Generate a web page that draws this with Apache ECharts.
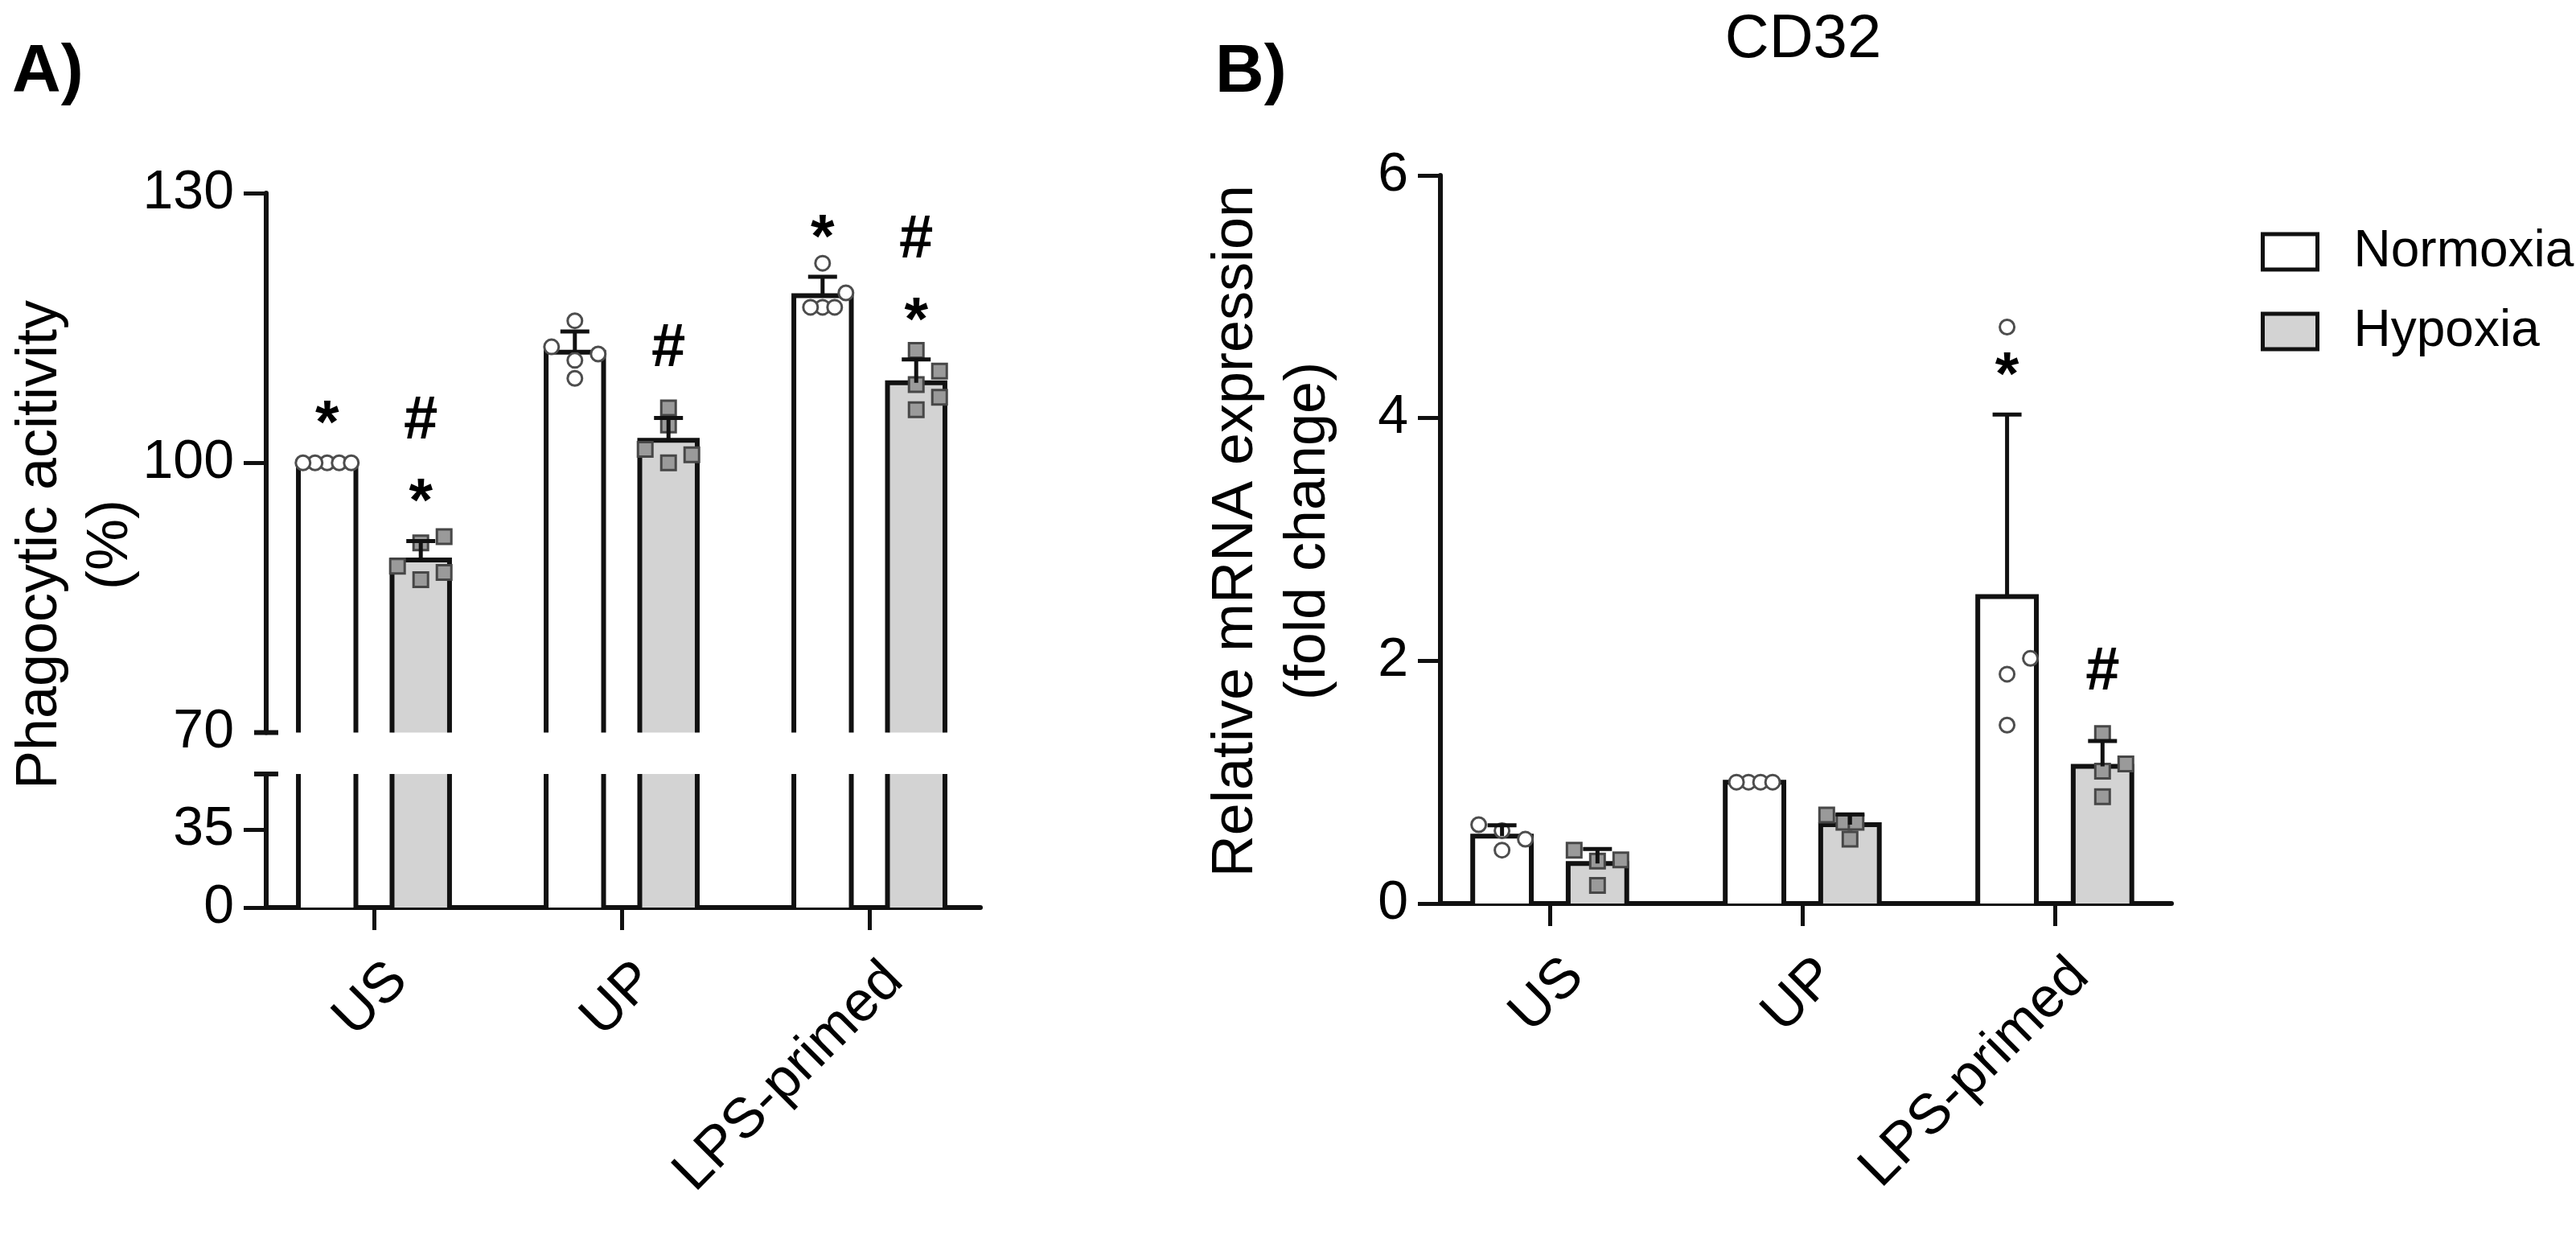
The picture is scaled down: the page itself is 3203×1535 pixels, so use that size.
<!DOCTYPE html>
<html>
<head>
<meta charset="utf-8">
<title>Phagocytic activity / CD32</title>
<script src="https://cdn.jsdelivr.net/npm/echarts@6/dist/echarts.min.js"></script>
<style>
  html, body { margin: 0; padding: 0; background: #fff; }
  #chart { width: 3203px; height: 1535px; }
</style>
</head>
<body>
<div id="chart"></div>
<script>
// categories on the x axis
const categories = ['US', 'UP', 'LPS-primed'];

// A) phagocytic activity (%), mean + SD and the single wells
const phagoNormoxiaMean = [100, 112.3, 118.6];
const phagoNormoxiaSD = [0, 2.3, 2.1];
const phagoHypoxiaMean = [89.2, 102.5, 108.9];
const phagoHypoxiaSD = [2.1, 2.5, 2.6];
const phagoNormoxiaPts = [
  [100, 100, 100, 100, 100],
  [115.8, 112.9, 112.1, 111.4, 109.4],
  [122.2, 118.9, 117.3, 117.3, 117.3]
];
const phagoHypoxiaPts = [
  [91.8, 91.1, 88.5, 87.8, 87.0],
  [106.1, 104.2, 101.5, 100.9, 100.0],
  [112.5, 110.2, 108.7, 107.3, 105.9]
];
// [category, group (0 normoxia / 1 hypoxia), marks from bottom to top]
const phagoMarks = [[0, 0, '*'], [0, 1, '*#'], [1, 1, '#'], [2, 0, '*'], [2, 1, '*#']];

// B) CD32 relative mRNA expression (fold change)
const cd32NormoxiaMean = [0.555, 1.0, 2.53];
const cd32NormoxiaSD = [0.09, 0, 1.5];
const cd32HypoxiaMean = [0.33, 0.65, 1.13];
const cd32HypoxiaSD = [0.12, 0.085, 0.21];
const cd32NormoxiaPts = [
  [0.65, 0.60, 0.53, 0.44],
  [1.0, 1.0, 1.0, 1.0],
  [4.75, 2.02, 1.89, 1.47]
];
const cd32HypoxiaPts = [
  [0.44, 0.36, 0.35, 0.15],
  [0.73, 0.67, 0.67, 0.53],
  [1.40, 1.15, 1.09, 0.88]
];
const cd32Marks = [[2, 0, '*'], [2, 1, '#']];

// axis ticks
const phagoUpperTicks = [70, 100, 130];
const phagoLowerTicks = [0, 35];
const cd32Ticks = [0, 2, 4, 6];

// ---- looks ----
const FONT = '"Liberation Sans", Arial, Helvetica, sans-serif';
const INK = '#111';
const GREY = '#d3d3d3';
const GRP_OFF = [-0.189, 0.189];   // bar centre offset inside a category
const BAR_W = 0.232;
const ROW_STEP = 15, SPREAD_STEP = 29, MIN_D = 20, R = 9;
const LABEL_SHIFT = 0.1;

const chart = echarts.init(document.getElementById('chart'), null, { renderer: 'canvas' });

function barSeries(name, axis, means, grp, fill) {
  return {
    type: 'custom', name: name, xAxisIndex: axis, yAxisIndex: axis, clip: false, z: 2,
    data: means.map((m, i) => [i, m]),
    renderItem: function (params, api) {
      const cs = params.coordSys;
      const x = api.value(0) + GRP_OFF[grp];
      const c = api.coord([x, api.value(1)]);
      const hw = api.coord([x + BAR_W / 2, api.value(1)])[0] - c[0];
      const bottom = cs.y + cs.height;
      const cut = c[1] < cs.y;
      const top = cut ? cs.y : c[1];
      const l = c[0] - hw, r = c[0] + hw;
      const st = { stroke: INK, lineWidth: 6, fill: null };
      const kids = [{ type: 'rect', shape: { x: l, y: top, width: 2 * hw, height: bottom - top }, style: { fill: fill } }];
      if (cut) {
        kids.push({ type: 'line', shape: { x1: l, y1: top, x2: l, y2: bottom }, style: st });
        kids.push({ type: 'line', shape: { x1: r, y1: top, x2: r, y2: bottom }, style: st });
      } else {
        kids.push({ type: 'polyline', shape: { points: [[l, bottom], [l, top], [r, top], [r, bottom]] }, style: st });
      }
      return { type: 'group', children: kids };
    }
  };
}

// scatter of the single values, spread sideways like a swarm
function pointSeries(axis, pts, grp, square) {
  return {
    type: 'custom', xAxisIndex: axis, yAxisIndex: axis, clip: false, z: 3,
    data: pts.map((p, i) => [i]),
    renderItem: function (params, api) {
      const i = api.value(0);
      const x0 = i + GRP_OFF[grp];
      const vals = pts[i].slice().sort((a, b) => a - b);
      const cx = api.coord([x0, vals[0]])[0];
      const placed = [];
      vals.forEach(v => {
        const y = api.coord([x0, v])[1];
        const twin = placed.some(p => Math.abs(p[1] - y) < 0.5);
        const step = twin ? ROW_STEP : SPREAD_STEP;
        for (const k of [0, 1, -1, 2, -2, 3, -3, 4, -4]) {
          const x = cx + k * step;
          const ok = placed.every(p => {
            const need = Math.abs(p[1] - y) < 0.5 ? ROW_STEP : MIN_D;
            return Math.hypot(p[0] - x, p[1] - y) >= need - 0.01;
          });
          if (ok) { placed.push([x, y]); break; }
        }
      });
      // centre rows of equal values
      const rows = {};
      placed.forEach(p => { const key = Math.round(p[1]); (rows[key] = rows[key] || []).push(p); });
      Object.values(rows).forEach(row => {
        if (row.length < 2) return;
        const m = row.reduce((s, p) => s + p[0], 0) / row.length - cx;
        row.forEach(p => { p[0] -= m; });
      });
      return {
        type: 'group',
        children: placed.map(p => square
          ? { type: 'rect', shape: { x: p[0] - R, y: p[1] - R, width: 2 * R, height: 2 * R }, style: { fill: '#9a9a9a', stroke: '#474747', lineWidth: 3 } }
          : { type: 'circle', shape: { cx: p[0], cy: p[1], r: R }, style: { fill: '#fff', stroke: '#4d4d4d', lineWidth: 3 } })
      };
    }
  };
}

function errorSeries(axis, means, sds, grp) {
  return {
    type: 'custom', xAxisIndex: axis, yAxisIndex: axis, clip: false, z: 4,
    data: means.map((m, i) => [i, m, sds[i]]),
    renderItem: function (params, api) {
      if (!(api.value(2) > 0)) return null;
      const x = api.value(0) + GRP_OFF[grp];
      const a = api.coord([x, api.value(1)]);
      const b = api.coord([x, api.value(1) + api.value(2)]);
      const st = { stroke: INK, lineWidth: 5 };
      return {
        type: 'group', children: [
          { type: 'line', shape: { x1: a[0], y1: a[1], x2: b[0], y2: b[1] }, style: st },
          { type: 'line', shape: { x1: b[0] - 18, y1: b[1], x2: b[0] + 18, y2: b[1] }, style: st }
        ]
      };
    }
  };
}

function markSeries(axis, marks, meansN, sdsN, meansH, sdsH) {
  return {
    type: 'custom', xAxisIndex: axis, yAxisIndex: axis, clip: false, z: 5,
    data: marks.map(m => [m[0], m[1]]),
    renderItem: function (params, api) {
      const i = api.value(0), g = api.value(1);
      const top = g === 0 ? meansN[i] + sdsN[i] : meansH[i] + sdsH[i];
      const p = api.coord([i + GRP_OFF[g], top]);
      const txt = marks[params.dataIndex][2];
      const kids = [];
      let cy = p[1];
      for (let j = 0; j < txt.length; j++) {
        const ch = txt[j];
        cy -= j === 0 ? (ch === '#' ? 85 : 63) : 85;
        kids.push({
          type: 'text', x: p[0], y: cy + (ch === '*' ? 17 : 0),
          style: { text: ch, fill: '#000', font: 'bold 76px ' + FONT, align: 'center', verticalAlign: 'middle', textAlign: 'center', textVerticalAlign: 'middle' }
        });
      }
      return { type: 'group', children: kids };
    }
  };
}

// short caps where the y axis of A is broken
function breakCap(axis, value) {
  return {
    type: 'custom', xAxisIndex: axis, yAxisIndex: axis, clip: false, z: 5,
    data: [[0, value]],
    renderItem: function (params, api) {
      const y = api.coord([0, api.value(1)])[1];
      const x = params.coordSys.x;
      return { type: 'line', shape: { x1: x - 15, y1: y, x2: x + 15, y2: y }, style: { stroke: INK, lineWidth: 6 } };
    }
  };
}

function xAxisOf(grid, min, max, visible) {
  return {
    type: 'value', gridIndex: grid, min: min, max: max, show: visible,
    axisLine: { show: true, onZero: false, lineStyle: { color: INK, width: 6 } },
    axisTick: { show: true, customValues: [0, 1, 2], length: 28, lineStyle: { color: INK, width: 5 } },
    axisLabel: {
      show: true, customValues: categories.map((c, i) => i + LABEL_SHIFT),
      formatter: v => categories[Math.round(v - LABEL_SHIFT)],
      rotate: 45, margin: 80, fontSize: 70, color: '#000', fontFamily: FONT
    },
    splitLine: { show: false }
  };
}

function yAxisOf(grid, min, max, ticks, labels) {
  return {
    type: 'value', gridIndex: grid, min: min, max: max,
    axisLine: { show: true, onZero: false, lineStyle: { color: INK, width: 6 } },
    axisTick: { show: true, customValues: ticks, length: 28, lineStyle: { color: INK, width: 5 } },
    axisLabel: { show: true, customValues: labels, margin: 40, fontSize: 68, color: '#000', fontFamily: FONT },
    splitLine: { show: false }
  };
}

const option = {
  backgroundColor: '#fff',
  animation: false,
  grid: [
    { left: 331, right: 1984, top: 240, height: 670.5, outerBoundsMode: 'none' },
    { left: 331, right: 1984, top: 962, height: 166, outerBoundsMode: 'none' },
    { left: 1791, right: 503, top: 218, height: 905, outerBoundsMode: 'none' }
  ],
  xAxis: [
    xAxisOf(0, -0.435, 2.448, false),
    xAxisOf(1, -0.435, 2.448, true),
    xAxisOf(2, -0.433, 2.462, true)
  ],
  yAxis: [
    yAxisOf(0, 70, 130, [100, 130], phagoUpperTicks),
    yAxisOf(1, 0, 60, [0, 35], phagoLowerTicks),
    yAxisOf(2, 0, 6, cd32Ticks, cd32Ticks)
  ],
  legend: {
    orient: 'vertical', left: 2806, top: 276, icon: 'rect',
    itemWidth: 68, itemHeight: 44, itemGap: 35, selectedMode: false,
    textStyle: { fontSize: 64, color: '#000', fontFamily: FONT, padding: [0, 0, 0, 40] },
    data: [
      { name: 'Normoxia', itemStyle: { color: '#fff', borderColor: INK, borderWidth: 5 } },
      { name: 'Hypoxia', itemStyle: { color: GREY, borderColor: INK, borderWidth: 5 } }
    ]
  },
  graphic: [
    { type: 'text', x: 15, y: 91, style: { text: 'A)', font: 'bold 84px ' + FONT, fill: '#000', align: 'left', verticalAlign: 'middle', textAlign: 'left', textVerticalAlign: 'middle' } },
    { type: 'text', x: 1511, y: 91, style: { text: 'B)', font: 'bold 84px ' + FONT, fill: '#000', align: 'left', verticalAlign: 'middle', textAlign: 'left', textVerticalAlign: 'middle' } },
    { type: 'text', x: 2242, y: 50, style: { text: 'CD32', font: '76px ' + FONT, fill: '#000', align: 'center', verticalAlign: 'middle', textAlign: 'center', textVerticalAlign: 'middle' } },
    { type: 'text', x: 94, y: 677, rotation: Math.PI / 2, style: { text: 'Phagocytic acitivity\n(%)', font: '72px ' + FONT, lineHeight: 88, fill: '#000', align: 'center', verticalAlign: 'middle', textAlign: 'center', textVerticalAlign: 'middle' } },
    { type: 'text', x: 1582, y: 660, rotation: Math.PI / 2, style: { text: 'Relative mRNA expression\n(fold change)', font: '72px ' + FONT, lineHeight: 90, fill: '#000', align: 'center', verticalAlign: 'middle', textAlign: 'center', textVerticalAlign: 'middle' } }
  ],
  series: [
    // A, upper part of the broken axis
    barSeries('Normoxia', 0, phagoNormoxiaMean, 0, '#fff'),
    barSeries('Hypoxia', 0, phagoHypoxiaMean, 1, GREY),
    pointSeries(0, phagoNormoxiaPts, 0, false),
    pointSeries(0, phagoHypoxiaPts, 1, true),
    errorSeries(0, phagoNormoxiaMean, phagoNormoxiaSD, 0),
    errorSeries(0, phagoHypoxiaMean, phagoHypoxiaSD, 1),
    markSeries(0, phagoMarks, phagoNormoxiaMean, phagoNormoxiaSD, phagoHypoxiaMean, phagoHypoxiaSD),
    breakCap(0, 70),
    // A, lower part
    barSeries('Normoxia', 1, phagoNormoxiaMean, 0, '#fff'),
    barSeries('Hypoxia', 1, phagoHypoxiaMean, 1, GREY),
    breakCap(1, 60),
    // B
    barSeries('Normoxia', 2, cd32NormoxiaMean, 0, '#fff'),
    barSeries('Hypoxia', 2, cd32HypoxiaMean, 1, GREY),
    pointSeries(2, cd32NormoxiaPts, 0, false),
    pointSeries(2, cd32HypoxiaPts, 1, true),
    errorSeries(2, cd32NormoxiaMean, cd32NormoxiaSD, 0),
    errorSeries(2, cd32HypoxiaMean, cd32HypoxiaSD, 1),
    markSeries(2, cd32Marks, cd32NormoxiaMean, cd32NormoxiaSD, cd32HypoxiaMean, cd32HypoxiaSD)
  ]
};

chart.setOption(option);
</script>
</body>
</html>
